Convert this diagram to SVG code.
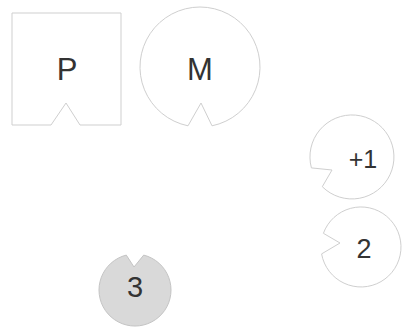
<svg xmlns="http://www.w3.org/2000/svg" width="402" height="331" viewBox="0 0 402 331">
<style>
.s{fill:#ffffff;stroke:#cfcfcf;stroke-width:1}
.g{fill:#d9d9d9;stroke:#c4c4c4;stroke-width:1}
.t{font-family:"Liberation Sans",Arial,sans-serif;fill:#333333;text-anchor:middle}
</style>
<rect width="402" height="331" fill="#ffffff"/>
<g id="P">
<path class="s" d="M12 13 H121 V125 H80 L66 103 L51 125 H12 Z"/>
<text class="t" x="67" y="80" font-size="31">P</text>
</g>
<g id="M">
<path class="s" d="M188 125.8 A60 60 0 1 1 212 125.8 L201 103 Z"/>
<text class="t" x="200" y="80" font-size="31">M</text>
</g>
<g id="plus1">
<path class="s" d="M311.4 167.9 A42 42 0 1 1 322.3 186.7 L332 170 Z"/>
<text class="t" x="363" y="168" font-size="25">+1</text>
</g>
<g id="two">
<path class="s" d="M323.4 233.3 A40 40 0 1 1 321.6 253.9 L340 243 Z"/>
<text class="t" x="364" y="258" font-size="27">2</text>
</g>
<g id="three">
<path class="g" d="M143.7 255.1 A36 36 0 1 1 126.3 255.1 L134 267 Z"/>
<text class="t" x="135" y="297" font-size="29">3</text>
</g>
<g id="connectors"></g>
</svg>
